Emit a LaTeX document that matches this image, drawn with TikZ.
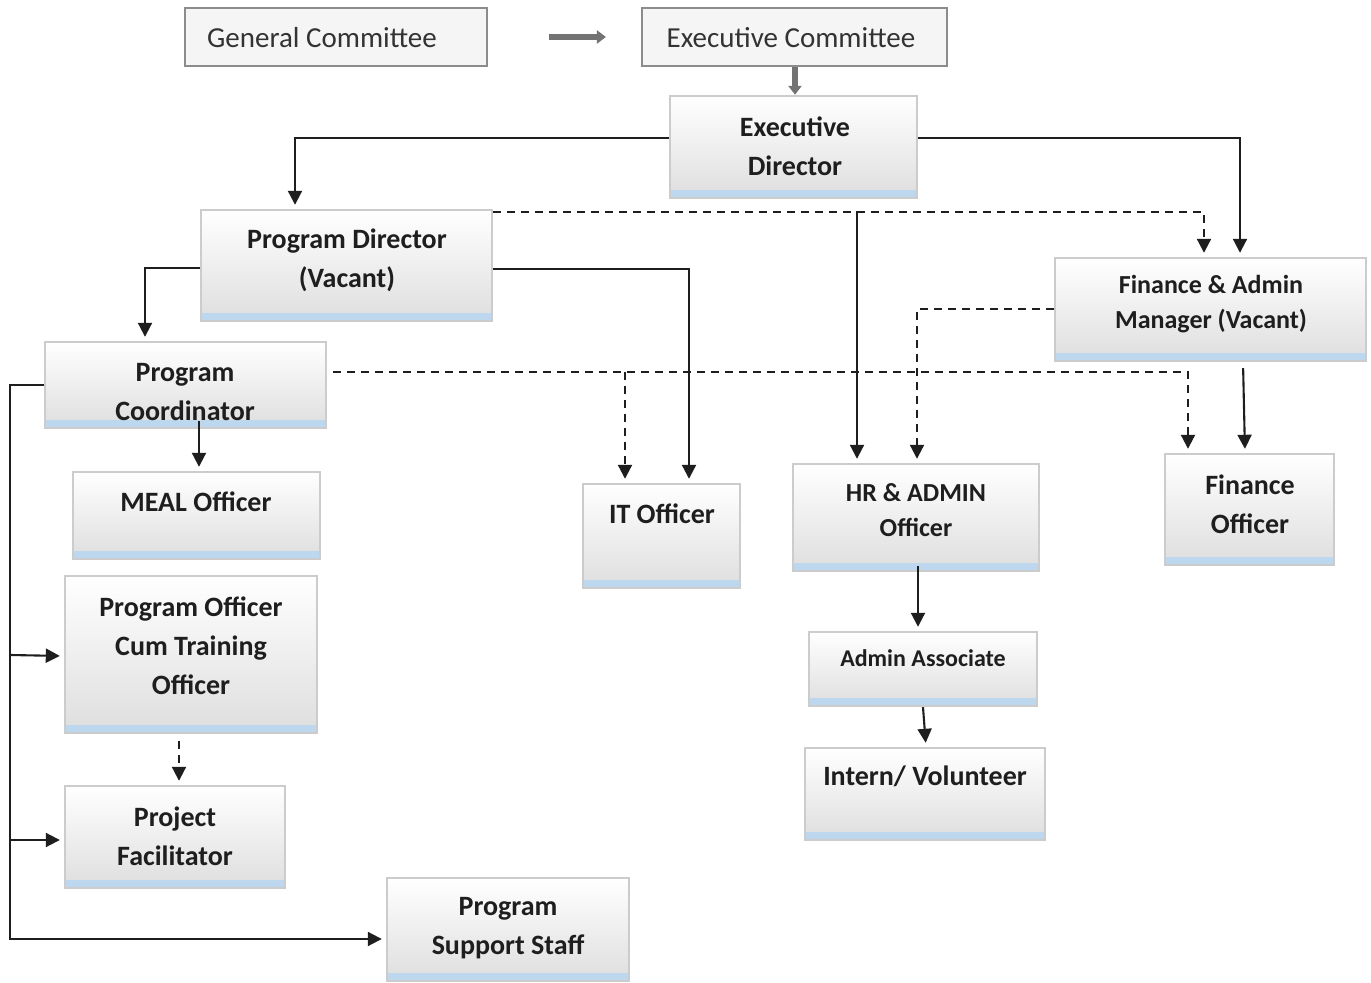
\documentclass[tikz,border=0pt]{standalone}
\usepackage{fontspec}
\setmainfont{Carlito}
\usetikzlibrary{arrows.meta}
\definecolor{txtc}{HTML}{1E1E1E}
\definecolor{stripc}{HTML}{BDD7EE}
\newcommand\orgbox[5]{%
 \pgfmathsetmacro\obcx{(#2+#4)/2}\pgfmathsetmacro\obcy{(#3+#5)/2}%
 \pgfmathsetmacro\obw{(#4-#2)*0.5}\pgfmathsetmacro\obh{(#5-#3)*0.5}%
 \node[obox, minimum width=\obw pt, minimum height=\obh pt] (#1) at (\obcx,\obcy) {};}
\newcommand\topbox[5]{%
 \pgfmathsetmacro\obcx{(#2+#4)/2}\pgfmathsetmacro\obcy{(#3+#5)/2}%
 \pgfmathsetmacro\obw{(#4-#2)*0.5}\pgfmathsetmacro\obh{(#5-#3)*0.5}%
 \node[tbox, minimum width=\obw pt, minimum height=\obh pt] (#1) at (\obcx,\obcy) {};}
\begin{document}
\begin{tikzpicture}[x=0.5pt,y=-0.5pt,
 obox/.style={rectangle, inner sep=0pt, draw=black!20, line width=1.2pt,
   top color=white, bottom color=black!13,
   path picture={\fill[stripc] (path picture bounding box.south west) rectangle ([yshift=4pt]path picture bounding box.south east);}},
 tbox/.style={rectangle, inner sep=0pt, draw=black!45, line width=1.1pt, fill=black!4},
 txt/.style={text=txtc, font=\fontsize{14}{19.5}\selectfont\bfseries, align=center, inner sep=0pt},
 ttxt/.style={text=black!80, font=\fontsize{14.5}{17}\selectfont, align=center, inner sep=0pt},
 arr/.style={draw=txtc, line width=1.05pt, -{Triangle[width=7pt,length=7pt]}, shorten >=2pt},
 darr/.style={arr, dash pattern=on 4pt off 3pt},
 garr/.style={draw=black!55, line width=2.6pt, -{Triangle[width=6.5pt,length=4.5pt]}}
]
\useasboundingbox (0,0) rectangle (1371,983);
% boxes
\topbox{gc}{185}{8}{487}{66}
\topbox{ec}{642}{8}{947}{66}
\orgbox{ed}{670}{96}{917}{198}
\orgbox{pd}{201}{210}{492}{321}
\orgbox{fam}{1055}{258}{1366}{361}
\orgbox{pc}{45}{342}{326}{428}
\orgbox{meal}{73}{472}{320}{559}
\orgbox{it}{583}{484}{740}{588}
\orgbox{hr}{793}{464}{1039}{571}
\orgbox{fo}{1165}{454}{1334}{565}
\orgbox{poct}{65}{576}{317}{733}
\orgbox{aa}{809}{632}{1037}{706}
\orgbox{intern}{805}{748}{1045}{840}
\orgbox{pf}{65}{786}{285}{888}
\orgbox{pss}{387}{878}{629}{981}
% texts
\node[ttxt] (tgc) at (322,38) {General Committee};
\node[ttxt] (tec) at (791,38) {Executive Committee};
\node[txt] (ted) at (795,146) {Executive\\Director};
\node[txt] (tpd) at (347,260) {Program Director\\(Vacant)};
\node[txt, font=\fontsize{13}{17.5}\selectfont\bfseries] (tfam) at (1211,304) {Finance \& Admin\\Manager (Vacant)};
\node[txt] (tpc) at (185,392) {Program\\Coordinator};
\node[txt] (tmeal) at (196,502) {MEAL Officer};
\node[txt] (tit) at (662,514) {IT Officer};
\node[txt, font=\fontsize{13}{17.5}\selectfont\bfseries] (thr) at (916,510) {HR \& ADMIN\\Officer};
\node[txt] (tfo) at (1250,504) {Finance\\Officer};
\node[txt] (tpoct) at (191,646) {Program Officer\\Cum Training\\Officer};
\node[txt, font=\fontsize{12}{15}\selectfont\bfseries] (taa) at (923,658) {Admin Associate};
\node[txt] (tint) at (925,776) {Intern/ Volunteer};
\node[txt] (tpf) at (175,836) {Project\\Facilitator};
\node[txt] (tpss) at (508,928) {Program\\Support Staff};
% connectors
\draw[garr, shorten <=30.5pt, shorten >=17.5pt] (gc.east) -- (ec.west);
\draw[garr] (ec.south -| 795,0) -- (ed.north -| 795,0);
\draw[arr] (ed.west |- 0,138) -| (pd.north -| 295,0);
\draw[arr] (ed.east |- 0,138) -| (fam.north -| 1240,0);
\draw[darr] (pd.east |- 0,212) -| (fam.north -| 1204,0);
\draw[arr, shorten <=6pt] (ed.south -| 857,0) -- (hr.north -| 857,0);
\draw[arr] (pd.west |- 0,268) -| (pc.north -| 145,0);
\draw[arr] (pd.east |- 0,269) -| (it.north -| 689,0);
\draw[darr] (fam.west |- 0,309) -| (hr.north -| 917,0);
\draw[darr, shorten <=3pt] (pc.east |- 0,372) -| (fo.north -| 1188,0);
\coordinate (j1) at (625,372);
\draw[darr] (j1) -- (it.north -| 625,0);
\draw[arr, shorten <=3pt] (fam.south -| 1243,0) -- (fo.north -| 1245,0);
\draw[arr] ([yshift=4pt]pc.south -| 199,0) -- (meal.north -| 199,0);
\draw[arr] (pc.west |- 0,385) -- (10,385) |- (pss.west |- 0,939);
\coordinate (j2) at (10,655);
\coordinate (j3) at (10,840);
\draw[arr] (j2) -- (poct.west |- 0,656);
\draw[arr] (j3) -- (pf.west |- 0,840);
\draw[darr, shorten <=3.5pt] (poct.south -| 179,0) -- (pf.north -| 179,0);
\draw[arr] ([yshift=3pt]hr.south -| 918,0) -- (aa.north -| 918,0);
\draw[arr] (aa.south -| 923,0) -- (intern.north -| 926,0);
\end{tikzpicture}
\end{document}
